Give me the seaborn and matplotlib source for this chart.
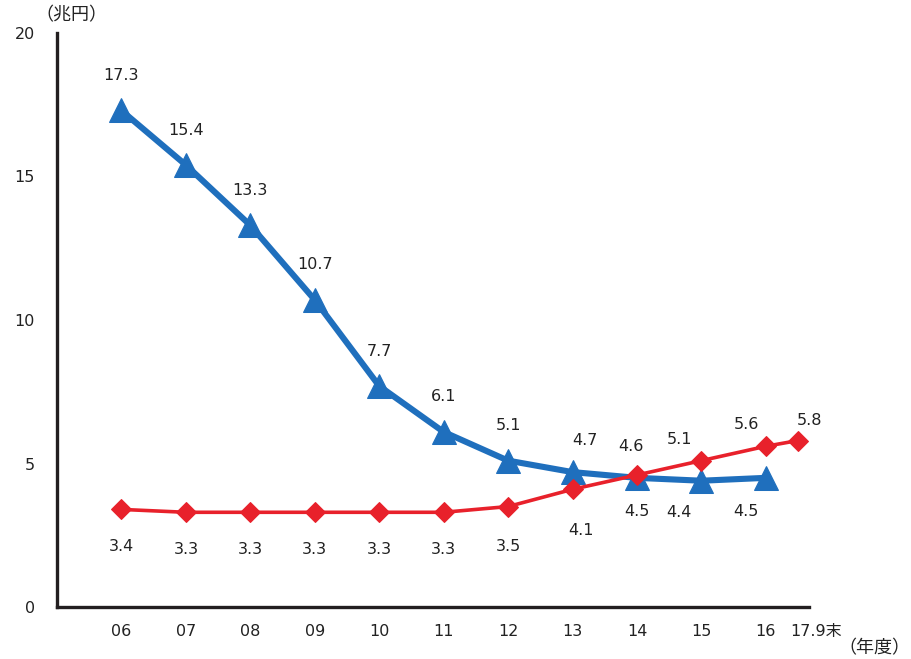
import numpy as np
import pandas as pd
import matplotlib
matplotlib.use("Agg")
import matplotlib.pyplot as plt
import matplotlib.transforms as mtransforms
import seaborn as sns

# Fiscal-year categories (last one is the end of Sept. 2017)
periods = ["06", "07", "08", "09", "10", "11", "12", "13", "14", "15", "16", "17.9末"]
blue_values = [17.3, 15.4, 13.3, 10.7, 7.7, 6.1, 5.1, 4.7, 4.5, 4.4, 4.5]
red_values = [3.4, 3.3, 3.3, 3.3, 3.3, 3.3, 3.5, 4.1, 4.6, 5.1, 5.6, 5.8]
y_ticks = [0, 5, 10, 15, 20]

# annual points are one step apart; the half-year point sits half a step later
xpos = np.append(np.arange(len(periods) - 1, dtype=float), len(periods) - 1.5)

blue_df = pd.DataFrame({"x": xpos[:len(blue_values)], "v": blue_values})
red_df = pd.DataFrame({"x": xpos[:len(red_values)], "v": red_values})

sns.set_style("white")
plt.rcParams["font.family"] = ["DejaVu Sans", "Noto Sans CJK JP"]

BLUE = "#1f6fbd"
RED = "#e8212b"
TXT = "#222222"
FS = 11.5

fig = plt.figure(figsize=(9.11, 6.59), dpi=100)
ax = fig.add_axes([57 / 911, 1 - 607 / 659, (809 - 57) / 911, (607 - 33) / 659])

sns.lineplot(data=blue_df, x="x", y="v", ax=ax, color=BLUE, linewidth=4.4,
             marker="^", markersize=17, markeredgecolor=BLUE, zorder=3)
sns.lineplot(data=red_df, x="x", y="v", ax=ax, color=RED, linewidth=2.6,
             marker="D", markersize=10, markeredgecolor=RED, zorder=4)

ax.set_xlim(-1, 10.67)
ax.set_ylim(0, 20)

# value labels (pixel offsets from each point)
blue_off = [(0, 35)] * 7 + [(12, 32), (0, -34), (-22, -32), (-20, -34)]
red_off = [(0, -37)] * 6 + [(0, -40), (8, -41), (-6, 28), (-22, 21), (-19, 22), (11, 20)]
for x, v, (dx, dy) in zip(xpos, blue_values, blue_off):
    ax.annotate(f"{v:.1f}", (x, v), xytext=(dx, dy), textcoords="offset pixels",
                ha="center", va="center", fontsize=FS, color=TXT)
for x, v, (dx, dy) in zip(xpos, red_values, red_off):
    ax.annotate(f"{v:.1f}", (x, v), xytext=(dx, dy), textcoords="offset pixels",
                ha="center", va="center", fontsize=FS, color=TXT)

for side in ["top", "right"]:
    ax.spines[side].set_visible(False)
for side in ["left", "bottom"]:
    ax.spines[side].set_linewidth(2.4)
    ax.spines[side].set_color("#231f20")

ax.set_xticks(np.append(-1, xpos))
ax.set_xticklabels([""] + periods)
ax.set_yticks(y_ticks)
ax.set_yticklabels([str(t) for t in y_ticks])
ax.tick_params(axis="x", direction="out", length=3, width=2, color="#231f20",
               pad=9, labelsize=FS, labelcolor=TXT)
ax.tick_params(axis="y", direction="in", length=4, width=2, color="#231f20",
               pad=16, labelsize=FS, labelcolor=TXT)
ax.set_xlabel("")
ax.set_ylabel("")

# the half-year label starts just left of its tick
last = ax.get_xticklabels()[-1]
last.set_horizontalalignment("left")
last.set_transform(last.get_transform() +
                   mtransforms.ScaledTranslation(-8 / 100, 0, fig.dpi_scale_trans))

unit_font = ["Noto Sans CJK JP", "DejaVu Sans"]
fig.text(35 / 911, 1 - 15 / 659, "（兆円）", ha="left", va="center",
         fontsize=13, color=TXT, family=unit_font)
fig.text(910 / 911, 1 - 648 / 659, "（年度）", ha="right", va="center",
         fontsize=13, color=TXT, family=unit_font)

fig.savefig("out.png", dpi=100)
